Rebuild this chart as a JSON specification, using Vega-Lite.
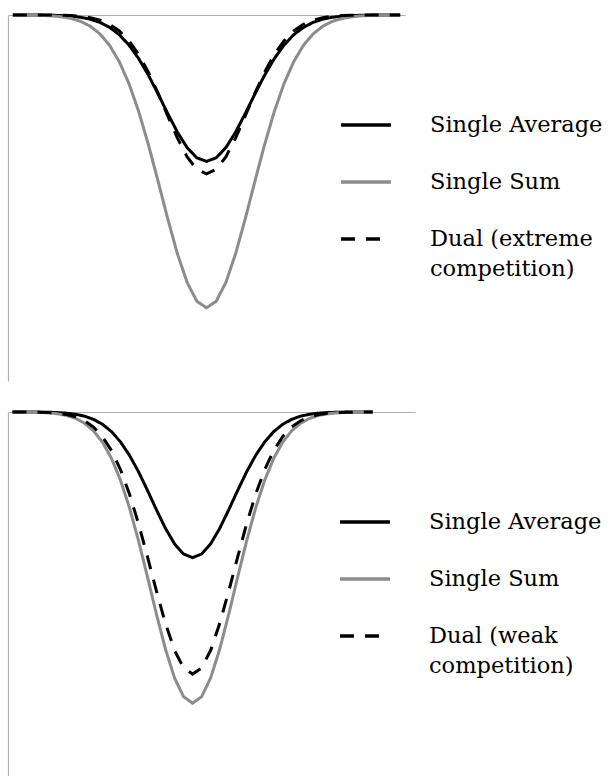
{
  "$schema": "https://vega.github.io/schema/vega-lite/v6.json",
  "padding": {"left": 6, "top": 9, "right": 0, "bottom": 0},
  "spacing": 25,
  "config": {
    "font": "DejaVu Serif",
    "view": {"stroke": null},
    "style": {"guide-label": {"lineHeight": 30}},
    "axis": {"domainColor": "#b0b0b0", "domainWidth": 1.2, "ticks": false, "labels": false, "grid": false, "title": null},
    "legend": {
      "labelFont": "DejaVu Serif", "labelFontSize": 22.5, "labelColor": "#000000", "labelLimit": 0,
      "symbolType": "stroke", "symbolSize": 2500, "symbolStrokeWidth": 3.5, "labelOffset": 37,
      "rowPadding": 18, "padding": 0, "title": null
    }
  },
  "datasets": {
    "top": [
      {"x": 0, "Single Average": 0, "Single Sum": -0.0001, "Dual (extreme competition)": 0},
      {"x": 1, "Single Average": 0, "Single Sum": -0.0002, "Dual (extreme competition)": 0},
      {"x": 2, "Single Average": -0.0001, "Single Sum": -0.0006, "Dual (extreme competition)": 0},
      {"x": 3, "Single Average": -0.0003, "Single Sum": -0.0011, "Dual (extreme competition)": -0.0001},
      {"x": 4, "Single Average": -0.0007, "Single Sum": -0.0024, "Dual (extreme competition)": -0.0003},
      {"x": 5, "Single Average": -0.0016, "Single Sum": -0.0049, "Dual (extreme competition)": -0.0007},
      {"x": 6, "Single Average": -0.0032, "Single Sum": -0.0094, "Dual (extreme competition)": -0.0017},
      {"x": 7, "Single Average": -0.0062, "Single Sum": -0.0174, "Dual (extreme competition)": -0.0036},
      {"x": 8, "Single Average": -0.0114, "Single Sum": -0.0307, "Dual (extreme competition)": -0.0073},
      {"x": 9, "Single Average": -0.0202, "Single Sum": -0.0518, "Dual (extreme competition)": -0.0141},
      {"x": 10, "Single Average": -0.0339, "Single Sum": -0.0832, "Dual (extreme competition)": -0.0255},
      {"x": 11, "Single Average": -0.0541, "Single Sum": -0.1279, "Dual (extreme competition)": -0.0437},
      {"x": 12, "Single Average": -0.0824, "Single Sum": -0.1879, "Dual (extreme competition)": -0.0707},
      {"x": 13, "Single Average": -0.1193, "Single Sum": -0.2639, "Dual (extreme competition)": -0.1082},
      {"x": 14, "Single Average": -0.1644, "Single Sum": -0.3542, "Dual (extreme competition)": -0.1564},
      {"x": 15, "Single Average": -0.2158, "Single Sum": -0.4542, "Dual (extreme competition)": -0.2137},
      {"x": 16, "Single Average": -0.2694, "Single Sum": -0.557, "Dual (extreme competition)": -0.2758},
      {"x": 17, "Single Average": -0.3203, "Single Sum": -0.6526, "Dual (extreme competition)": -0.3363},
      {"x": 18, "Single Average": -0.3624, "Single Sum": -0.7308, "Dual (extreme competition)": -0.3875},
      {"x": 19, "Single Average": -0.3902, "Single Sum": -0.7821, "Dual (extreme competition)": -0.4219},
      {"x": 20, "Single Average": -0.4, "Single Sum": -0.8, "Dual (extreme competition)": -0.434},
      {"x": 21, "Single Average": -0.3902, "Single Sum": -0.7821, "Dual (extreme competition)": -0.4219},
      {"x": 22, "Single Average": -0.3624, "Single Sum": -0.7308, "Dual (extreme competition)": -0.3875},
      {"x": 23, "Single Average": -0.3203, "Single Sum": -0.6526, "Dual (extreme competition)": -0.3363},
      {"x": 24, "Single Average": -0.2694, "Single Sum": -0.557, "Dual (extreme competition)": -0.2758},
      {"x": 25, "Single Average": -0.2158, "Single Sum": -0.4542, "Dual (extreme competition)": -0.2137},
      {"x": 26, "Single Average": -0.1644, "Single Sum": -0.3542, "Dual (extreme competition)": -0.1564},
      {"x": 27, "Single Average": -0.1193, "Single Sum": -0.2639, "Dual (extreme competition)": -0.1082},
      {"x": 28, "Single Average": -0.0824, "Single Sum": -0.1879, "Dual (extreme competition)": -0.0707},
      {"x": 29, "Single Average": -0.0541, "Single Sum": -0.1279, "Dual (extreme competition)": -0.0437},
      {"x": 30, "Single Average": -0.0339, "Single Sum": -0.0832, "Dual (extreme competition)": -0.0255},
      {"x": 31, "Single Average": -0.0202, "Single Sum": -0.0518, "Dual (extreme competition)": -0.0141},
      {"x": 32, "Single Average": -0.0114, "Single Sum": -0.0307, "Dual (extreme competition)": -0.0073},
      {"x": 33, "Single Average": -0.0062, "Single Sum": -0.0174, "Dual (extreme competition)": -0.0036},
      {"x": 34, "Single Average": -0.0032, "Single Sum": -0.0094, "Dual (extreme competition)": -0.0017},
      {"x": 35, "Single Average": -0.0016, "Single Sum": -0.0049, "Dual (extreme competition)": -0.0007},
      {"x": 36, "Single Average": -0.0007, "Single Sum": -0.0024, "Dual (extreme competition)": -0.0003},
      {"x": 37, "Single Average": -0.0003, "Single Sum": -0.0011, "Dual (extreme competition)": -0.0001},
      {"x": 38, "Single Average": -0.0001, "Single Sum": -0.0006, "Dual (extreme competition)": 0},
      {"x": 39, "Single Average": 0, "Single Sum": -0.0002, "Dual (extreme competition)": 0},
      {"x": 40, "Single Average": 0, "Single Sum": -0.0001, "Dual (extreme competition)": 0}
    ],
    "bottom": [
      {"x": 0, "Single Average": 0, "Single Sum": -0.0001, "Dual (weak competition)": -0.0001},
      {"x": 1, "Single Average": 0, "Single Sum": -0.0002, "Dual (weak competition)": -0.0001},
      {"x": 2, "Single Average": -0.0001, "Single Sum": -0.0006, "Dual (weak competition)": -0.0004},
      {"x": 3, "Single Average": -0.0003, "Single Sum": -0.0011, "Dual (weak competition)": -0.0008},
      {"x": 4, "Single Average": -0.0007, "Single Sum": -0.0024, "Dual (weak competition)": -0.0017},
      {"x": 5, "Single Average": -0.0016, "Single Sum": -0.0049, "Dual (weak competition)": -0.0035},
      {"x": 6, "Single Average": -0.0032, "Single Sum": -0.0094, "Dual (weak competition)": -0.007},
      {"x": 7, "Single Average": -0.0062, "Single Sum": -0.0174, "Dual (weak competition)": -0.0132},
      {"x": 8, "Single Average": -0.0114, "Single Sum": -0.0307, "Dual (weak competition)": -0.024},
      {"x": 9, "Single Average": -0.0202, "Single Sum": -0.0518, "Dual (weak competition)": -0.0413},
      {"x": 10, "Single Average": -0.0339, "Single Sum": -0.0832, "Dual (weak competition)": -0.0678},
      {"x": 11, "Single Average": -0.0541, "Single Sum": -0.1279, "Dual (weak competition)": -0.1062},
      {"x": 12, "Single Average": -0.0824, "Single Sum": -0.1879, "Dual (weak competition)": -0.1587},
      {"x": 13, "Single Average": -0.1193, "Single Sum": -0.2639, "Dual (weak competition)": -0.2262},
      {"x": 14, "Single Average": -0.1644, "Single Sum": -0.3542, "Dual (weak competition)": -0.3075},
      {"x": 15, "Single Average": -0.2158, "Single Sum": -0.4542, "Dual (weak competition)": -0.3988},
      {"x": 16, "Single Average": -0.2694, "Single Sum": -0.557, "Dual (weak competition)": -0.4933},
      {"x": 17, "Single Average": -0.3203, "Single Sum": -0.6526, "Dual (weak competition)": -0.582},
      {"x": 18, "Single Average": -0.3624, "Single Sum": -0.7308, "Dual (weak competition)": -0.6551},
      {"x": 19, "Single Average": -0.3902, "Single Sum": -0.7821, "Dual (weak competition)": -0.7032},
      {"x": 20, "Single Average": -0.4, "Single Sum": -0.8, "Dual (weak competition)": -0.72},
      {"x": 21, "Single Average": -0.3902, "Single Sum": -0.7821, "Dual (weak competition)": -0.7032},
      {"x": 22, "Single Average": -0.3624, "Single Sum": -0.7308, "Dual (weak competition)": -0.6551},
      {"x": 23, "Single Average": -0.3203, "Single Sum": -0.6526, "Dual (weak competition)": -0.582},
      {"x": 24, "Single Average": -0.2694, "Single Sum": -0.557, "Dual (weak competition)": -0.4933},
      {"x": 25, "Single Average": -0.2158, "Single Sum": -0.4542, "Dual (weak competition)": -0.3988},
      {"x": 26, "Single Average": -0.1644, "Single Sum": -0.3542, "Dual (weak competition)": -0.3075},
      {"x": 27, "Single Average": -0.1193, "Single Sum": -0.2639, "Dual (weak competition)": -0.2262},
      {"x": 28, "Single Average": -0.0824, "Single Sum": -0.1879, "Dual (weak competition)": -0.1587},
      {"x": 29, "Single Average": -0.0541, "Single Sum": -0.1279, "Dual (weak competition)": -0.1062},
      {"x": 30, "Single Average": -0.0339, "Single Sum": -0.0832, "Dual (weak competition)": -0.0678},
      {"x": 31, "Single Average": -0.0202, "Single Sum": -0.0518, "Dual (weak competition)": -0.0413},
      {"x": 32, "Single Average": -0.0114, "Single Sum": -0.0307, "Dual (weak competition)": -0.024},
      {"x": 33, "Single Average": -0.0062, "Single Sum": -0.0174, "Dual (weak competition)": -0.0132},
      {"x": 34, "Single Average": -0.0032, "Single Sum": -0.0094, "Dual (weak competition)": -0.007},
      {"x": 35, "Single Average": -0.0016, "Single Sum": -0.0049, "Dual (weak competition)": -0.0035},
      {"x": 36, "Single Average": -0.0007, "Single Sum": -0.0024, "Dual (weak competition)": -0.0017},
      {"x": 37, "Single Average": -0.0003, "Single Sum": -0.0011, "Dual (weak competition)": -0.0008},
      {"x": 38, "Single Average": -0.0001, "Single Sum": -0.0006, "Dual (weak competition)": -0.0004},
      {"x": 39, "Single Average": 0, "Single Sum": -0.0002, "Dual (weak competition)": -0.0001},
      {"x": 40, "Single Average": 0, "Single Sum": -0.0001, "Dual (weak competition)": -0.0001}
    ]
  },
  "resolve": {
    "scale": {"color": "independent", "strokeDash": "independent", "x": "independent", "y": "independent"},
    "legend": {"color": "independent", "strokeDash": "independent"}
  },
  "vconcat": [
    {
      "width": 397,
      "height": 366,
      "data": {"name": "top"},
      "transform": [{"fold": ["Single Average", "Single Sum", "Dual (extreme competition)"], "as": ["series", "value"]}],
      "mark": {"type": "line", "strokeWidth": 3, "clip": false},
      "encoding": {
        "x": {"field": "x", "type": "quantitative", "scale": {"domain": [-0.5, 40.5], "nice": false, "zero": false}, "axis": {"orient": "top"}},
        "y": {"field": "value", "type": "quantitative", "scale": {"domain": [-1, 0], "nice": false}, "axis": {"orient": "left"}},
        "color": {
          "field": "series", "type": "nominal",
          "scale": {"domain": ["Single Average", "Single Sum", "Dual (extreme competition)"], "range": ["#000000", "#8c8c8c", "#000000"]},
          "legend": {"orient": "none", "legendX": 331, "legendY": 83, "labelFont": "DejaVu Serif", "labelExpr": "datum.label == 'Dual (extreme competition)' ? ['Dual (extreme', 'competition)'] : datum.label"}
        },
        "strokeDash": {
          "field": "series", "type": "nominal",
          "scale": {"domain": ["Single Average", "Single Sum", "Dual (extreme competition)"], "range": [[1, 0], [1, 0], [14, 11]]},
          "legend": {"orient": "none", "legendX": 331, "legendY": 83, "labelFont": "DejaVu Serif", "labelExpr": "datum.label == 'Dual (extreme competition)' ? ['Dual (extreme', 'competition)'] : datum.label"}
        },
        "order": {"field": "x", "type": "quantitative"}
      }
    },
    {
      "width": 407,
      "height": 364,
      "data": {"name": "bottom"},
      "transform": [{"fold": ["Single Average", "Single Sum", "Dual (weak competition)"], "as": ["series", "value"]}],
      "mark": {"type": "line", "strokeWidth": 3, "clip": false},
      "encoding": {
        "x": {"field": "x", "type": "quantitative", "scale": {"domain": [-0.5, 44.7], "nice": false, "zero": false}, "axis": {"orient": "top"}},
        "y": {"field": "value", "type": "quantitative", "scale": {"domain": [-1, 0], "nice": false}, "axis": {"orient": "left"}},
        "color": {
          "field": "series", "type": "nominal",
          "scale": {"domain": ["Single Average", "Single Sum", "Dual (weak competition)"], "range": ["#000000", "#8c8c8c", "#000000"]},
          "legend": {"orient": "none", "legendX": 330, "legendY": 83, "labelFont": "DejaVu Serif", "labelExpr": "datum.label == 'Dual (weak competition)' ? ['Dual (weak', 'competition)'] : datum.label"}
        },
        "strokeDash": {
          "field": "series", "type": "nominal",
          "scale": {"domain": ["Single Average", "Single Sum", "Dual (weak competition)"], "range": [[1, 0], [1, 0], [14, 11]]},
          "legend": {"orient": "none", "legendX": 330, "legendY": 83, "labelFont": "DejaVu Serif", "labelExpr": "datum.label == 'Dual (weak competition)' ? ['Dual (weak', 'competition)'] : datum.label"}
        },
        "order": {"field": "x", "type": "quantitative"}
      }
    }
  ]
}
